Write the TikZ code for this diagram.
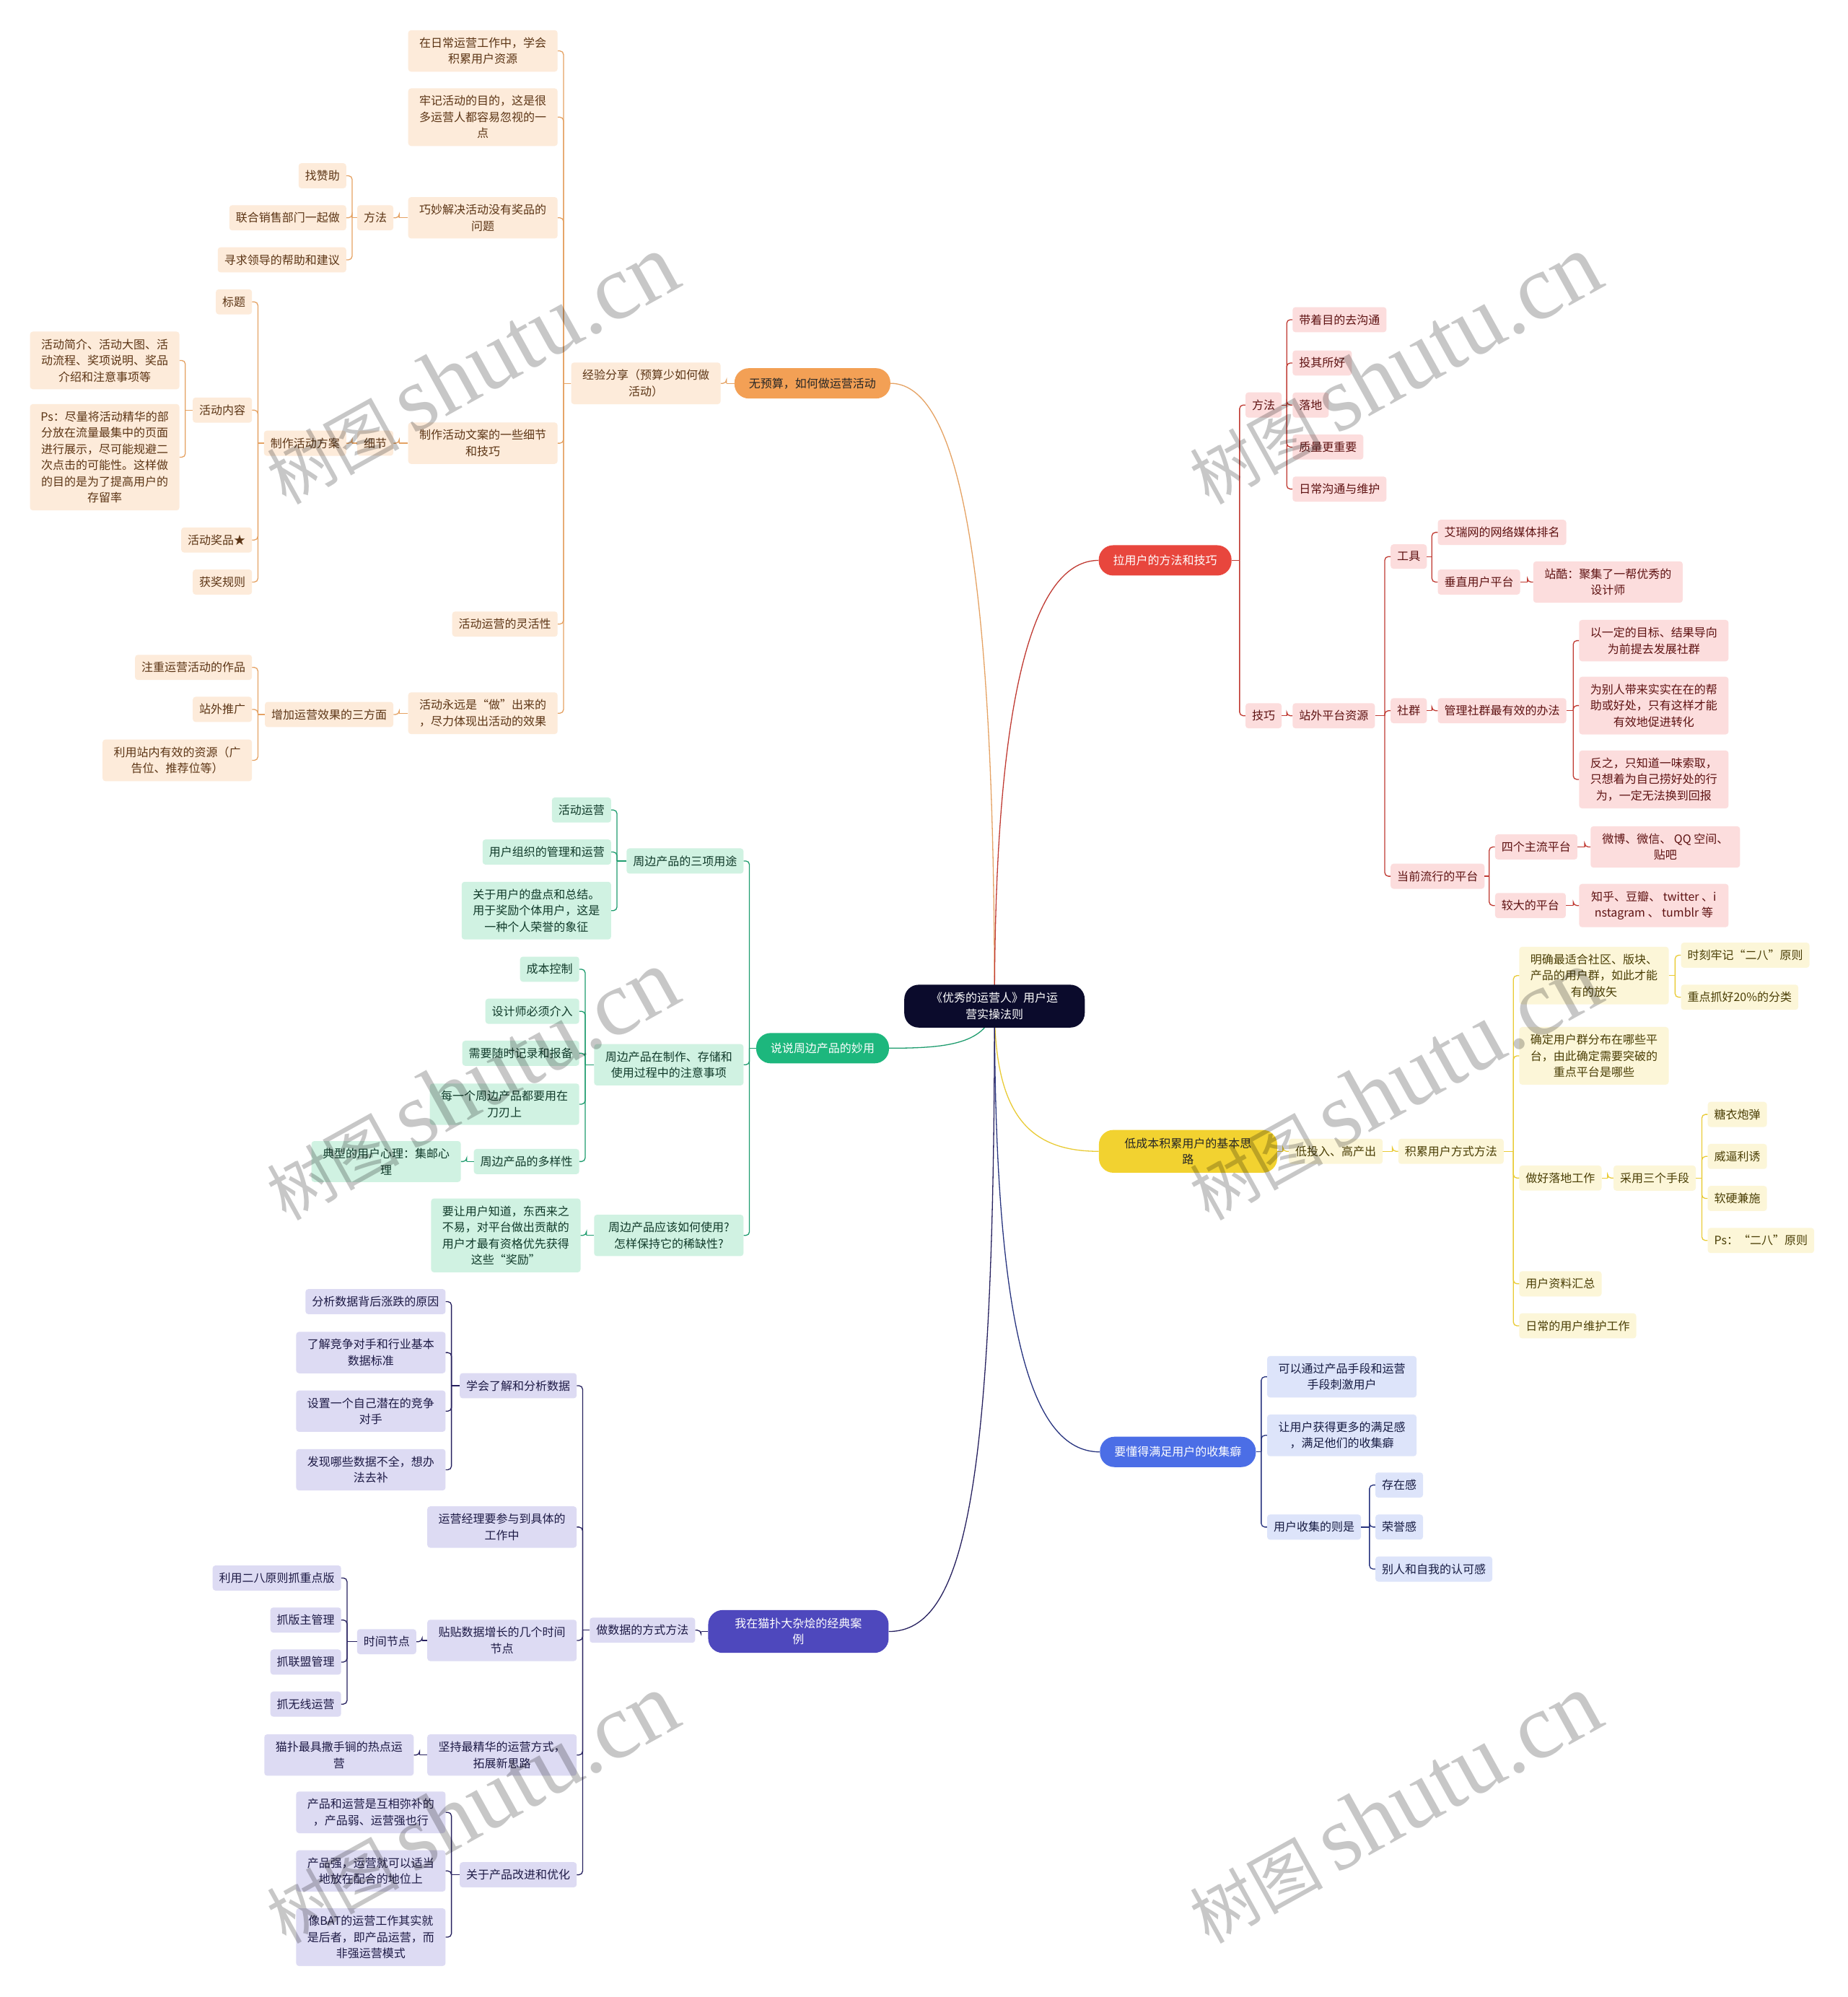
\documentclass[tikz,border=0pt]{standalone}
\usepackage{fontspec}
\setmainfont{Noto Sans CJK SC}
\newfontfamily\wmserif{Liberation Serif}
\usetikzlibrary{backgrounds,calc}
\definecolor{rootfill}{HTML}{0B0B2C}
\definecolor{orgmain}{HTML}{F3A055}
\definecolor{orgfill}{HTML}{FDEBDA}
\definecolor{orgtext}{HTML}{5C3515}
\definecolor{orgline}{HTML}{E5A263}
\definecolor{redmain}{HTML}{E8463D}
\definecolor{redfill}{HTML}{FCDDDD}
\definecolor{redtext}{HTML}{5E1212}
\definecolor{redline}{HTML}{C03A32}
\definecolor{yelmain}{HTML}{F2D230}
\definecolor{yelfill}{HTML}{FCF6D8}
\definecolor{yeltext}{HTML}{4A3E05}
\definecolor{yelline}{HTML}{E9CB35}
\definecolor{grnmain}{HTML}{1DB77D}
\definecolor{grnfill}{HTML}{D0F2E2}
\definecolor{grntext}{HTML}{103A2A}
\definecolor{grnline}{HTML}{1E9C6E}
\definecolor{blumain}{HTML}{4B6EE6}
\definecolor{blufill}{HTML}{DDE4FA}
\definecolor{blutext}{HTML}{161B42}
\definecolor{bluline}{HTML}{27337F}
\definecolor{purmain}{HTML}{4E48BD}
\definecolor{purfill}{HTML}{DDDBF3}
\definecolor{purtext}{HTML}{1D1A45}
\definecolor{purline}{HTML}{26205F}
\newcommand{\nodefont}{\fontsize{16pt}{22.5pt}\selectfont}
% children on the left: trunk sits just right of the child
\newcommand{\linkL}[2]{%
  \path ([xshift=8pt]#2.east) coordinate (jn);
  \draw[link] (#1.west) -- (jn |- #1.west);
  \draw[link,rounded corners=5pt] (jn |- #1.west) |- (#2.east);}
% children on the right
\newcommand{\linkR}[2]{%
  \path ([xshift=-8pt]#2.west) coordinate (jn);
  \draw[link] (#1.east) -- (jn |- #1.east);
  \draw[link,rounded corners=5pt] (jn |- #1.east) |- (#2.west);}

\begin{document}
\begin{tikzpicture}[x=1.7643pt,y=-1.7643pt,
  leaf/.style={rounded corners=4pt,inner xsep=9pt,inner ysep=10pt,align=center,font=\nodefont},
  wide/.style={minimum width=207pt},
  topic/.style={rounded corners=20pt,inner xsep=20pt,inner ysep=11pt,minimum height=42pt,align=center,font=\nodefont},
  link/.style={line width=1.3pt},
  wmark/.style={rotate=29,text=black,text opacity=0.22,inner sep=0pt}]
\useasboundingbox (0,0) rectangle (1451,1568);

\node[topic,fill=rootfill,text=white,minimum width=250pt] (root) at (781,790) {《优秀的运营人》用户运\\营实操法则};

% ---------- orange: activities without budget ----------
\begin{scope}[leaf/.append style={fill=orgfill,text=orgtext},link/.append style={draw=orgline}]
  \node[topic,fill=orgmain,text=black!85] (o0) at (638,301) {无预算，如何做运营活动};
  \node[leaf,wide,anchor=east] (o1) at (566,301) {经验分享（预算少如何做\\活动）};
  \node[leaf,wide,anchor=east] (o1a) at (438,40) {在日常运营工作中，学会\\积累用户资源};
  \node[leaf,wide,anchor=east] (o1b) at (438,92) {牢记活动的目的，这是很\\多运营人都容易忽视的一\\点};
  \node[leaf,wide,anchor=east] (o1c) at (438,171) {巧妙解决活动没有奖品的\\问题};
  \node[leaf,anchor=east] (o1c1) at (309,171) {方法};
  \node[leaf,anchor=east] (o1c1a) at (272,138) {找赞助};
  \node[leaf,anchor=east] (o1c1b) at (272,171) {联合销售部门一起做};
  \node[leaf,anchor=east] (o1c1c) at (272,204) {寻求领导的帮助和建议};
  \node[leaf,wide,anchor=east] (o1d) at (438,348) {制作活动文案的一些细节\\和技巧};
  \node[leaf,anchor=east] (o1d1) at (309,348) {细节};
  \node[leaf,anchor=east] (o1d2) at (272,348) {制作活动方案};
  \node[leaf,anchor=east] (o1d2a) at (198,237) {标题};
  \node[leaf,anchor=east] (o1d2b) at (198,322) {活动内容};
  \node[leaf,wide,anchor=east] (o1d2b1) at (141,283) {活动简介、活动大图、活\\动流程、奖项说明、奖品\\介绍和注意事项等};
  \node[leaf,wide,anchor=east] (o1d2b2) at (141,359) {Ps：尽量将活动精华的部\\分放在流量最集中的页面\\进行展示，尽可能规避二\\次点击的可能性。这样做\\的目的是为了提高用户的\\存留率};
  \node[leaf,anchor=east] (o1d2c) at (198,424) {活动奖品★};
  \node[leaf,anchor=east] (o1d2d) at (198,457) {获奖规则};
  \node[leaf,anchor=east] (o1e) at (438,490) {活动运营的灵活性};
  \node[leaf,wide,anchor=east] (o1f) at (438,560) {活动永远是“做”出来的\\，尽力体现出活动的效果};
  \node[leaf,anchor=east] (o1f1) at (309,561) {增加运营效果的三方面};
  \node[leaf,anchor=east] (o1f1a) at (198,524) {注重运营活动的作品};
  \node[leaf,anchor=east] (o1f1b) at (198,557) {站外推广};
  \node[leaf,wide,anchor=east] (o1f1c) at (198,597) {利用站内有效的资源（广\\告位、推荐位等）};
  \linkL{o0}{o1}
  \foreach \c in {o1a,o1b,o1c,o1d,o1e,o1f} {\linkL{o1}{\c}}
  \linkL{o1c}{o1c1}
  \foreach \c in {o1c1a,o1c1b,o1c1c} {\linkL{o1c1}{\c}}
  \linkL{o1d}{o1d1}
  \linkL{o1d1}{o1d2}
  \foreach \c in {o1d2a,o1d2b,o1d2c,o1d2d} {\linkL{o1d2}{\c}}
  \foreach \c in {o1d2b1,o1d2b2} {\linkL{o1d2b}{\c}}
  \linkL{o1f}{o1f1}
  \foreach \c in {o1f1a,o1f1b,o1f1c} {\linkL{o1f1}{\c}}
\end{scope}

% ---------- green: merchandise ----------
\begin{scope}[leaf/.append style={fill=grnfill,text=grntext},link/.append style={draw=grnline}]
  \node[topic,fill=grnmain,text=white] (g0) at (646,823) {说说周边产品的妙用};
  \node[leaf,anchor=east] (g1) at (584,676) {周边产品的三项用途};
  \node[leaf,anchor=east] (g1a) at (480,636) {活动运营};
  \node[leaf,anchor=east] (g1b) at (480,669) {用户组织的管理和运营};
  \node[leaf,wide,anchor=east] (g1c) at (480,715) {关于用户的盘点和总结。\\用于奖励个体用户，这是\\一种个人荣誉的象征};
  \node[leaf,wide,anchor=east] (g2) at (584,836) {周边产品在制作、存储和\\使用过程中的注意事项};
  \node[leaf,anchor=east] (g2a) at (455,761) {成本控制};
  \node[leaf,anchor=east] (g2b) at (455,794) {设计师必须介入};
  \node[leaf,anchor=east] (g2c) at (455,827) {需要随时记录和报备};
  \node[leaf,wide,anchor=east] (g2d) at (455,867) {每一个周边产品都要用在\\刀刃上};
  \node[leaf,anchor=east] (g2e) at (455,912) {周边产品的多样性};
  \node[leaf,wide,anchor=east] (g2e1) at (362,912) {典型的用户心理：集邮心\\理};
  \node[leaf,wide,anchor=east] (g3) at (584,970) {周边产品应该如何使用?\\怎样保持它的稀缺性?};
  \node[leaf,wide,anchor=east] (g3a) at (456,970) {要让用户知道，东西来之\\不易，对平台做出贡献的\\用户才最有资格优先获得\\这些“奖励”};
  \foreach \c in {g1,g2,g3} {\linkL{g0}{\c}}
  \foreach \c in {g1a,g1b,g1c} {\linkL{g1}{\c}}
  \foreach \c in {g2a,g2b,g2c,g2d,g2e} {\linkL{g2}{\c}}
  \linkL{g2e}{g2e1}
  \linkL{g3}{g3a}
\end{scope}

% ---------- purple: the Mop case ----------
\begin{scope}[leaf/.append style={fill=purfill,text=purtext},link/.append style={draw=purline}]
  \node[topic,fill=purmain,text=white,minimum width=250pt] (p0) at (627,1281) {我在猫扑大杂烩的经典案\\例};
  \node[leaf,anchor=east] (p1) at (546,1280) {做数据的方式方法};
  \node[leaf,anchor=east] (p1a) at (453,1088) {学会了解和分析数据};
  \node[leaf,anchor=east] (p1a1) at (350,1022) {分析数据背后涨跌的原因};
  \node[leaf,wide,anchor=east] (p1a2) at (350,1062) {了解竞争对手和行业基本\\数据标准};
  \node[leaf,wide,anchor=east] (p1a3) at (350,1108) {设置一个自己潜在的竞争\\对手};
  \node[leaf,wide,anchor=east] (p1a4) at (350,1154) {发现哪些数据不全，想办\\法去补};
  \node[leaf,wide,anchor=east] (p1b) at (453,1199) {运营经理要参与到具体的\\工作中};
  \node[leaf,wide,anchor=east] (p1c) at (453,1288) {贴贴数据增长的几个时间\\节点};
  \node[leaf,anchor=east] (p1c1) at (327,1289) {时间节点};
  \node[leaf,anchor=east] (p1c1a) at (268,1239) {利用二八原则抓重点版};
  \node[leaf,anchor=east] (p1c1b) at (268,1272) {抓版主管理};
  \node[leaf,anchor=east] (p1c1c) at (268,1305) {抓联盟管理};
  \node[leaf,anchor=east] (p1c1d) at (268,1338) {抓无线运营};
  \node[leaf,wide,anchor=east] (p1d) at (453,1378) {坚持最精华的运营方式，\\拓展新思路};
  \node[leaf,wide,anchor=east] (p1d1) at (325,1378) {猫扑最具撒手锏的热点运\\营};
  \node[leaf,anchor=east] (p1e) at (453,1472) {关于产品改进和优化};
  \node[leaf,wide,anchor=east] (p1e1) at (350,1423) {产品和运营是互相弥补的\\，产品弱、运营强也行};
  \node[leaf,wide,anchor=east] (p1e2) at (350,1469) {产品强，运营就可以适当\\地放在配合的地位上};
  \node[leaf,wide,anchor=east] (p1e3) at (350,1521) {像BAT的运营工作其实就\\是后者，即产品运营，而\\非强运营模式};
  \linkL{p0}{p1}
  \foreach \c in {p1a,p1b,p1c,p1d,p1e} {\linkL{p1}{\c}}
  \foreach \c in {p1a1,p1a2,p1a3,p1a4} {\linkL{p1a}{\c}}
  \linkL{p1c}{p1c1}
  \foreach \c in {p1c1a,p1c1b,p1c1c,p1c1d} {\linkL{p1c1}{\c}}
  \linkL{p1d}{p1d1}
  \foreach \c in {p1e1,p1e2,p1e3} {\linkL{p1e}{\c}}
\end{scope}

% ---------- red: pulling users ----------
\begin{scope}[leaf/.append style={fill=redfill,text=redtext},link/.append style={draw=redline}]
  \node[topic,fill=redmain,text=white] (r0) at (915,440) {拉用户的方法和技巧};
  \node[leaf,anchor=west] (r1) at (978,318) {方法};
  \node[leaf,anchor=west] (r1a) at (1015,251) {带着目的去沟通};
  \node[leaf,anchor=west] (r1b) at (1015,285) {投其所好};
  \node[leaf,anchor=west] (r1c) at (1015,318) {落地};
  \node[leaf,anchor=west] (r1d) at (1015,351) {质量更重要};
  \node[leaf,anchor=west] (r1e) at (1015,384) {日常沟通与维护};
  \node[leaf,anchor=west] (r2) at (978,562) {技巧};
  \node[leaf,anchor=west] (r21) at (1015,562) {站外平台资源};
  \node[leaf,anchor=west] (r21a) at (1092,437) {工具};
  \node[leaf,anchor=west] (r21a1) at (1129,418) {艾瑞网的网络媒体排名};
  \node[leaf,anchor=west] (r21a2) at (1129,457) {垂直用户平台};
  \node[leaf,wide,anchor=west] (r21a2x) at (1204,457) {站酷：聚集了一帮优秀的\\设计师};
  \node[leaf,anchor=west] (r21b) at (1092,558) {社群};
  \node[leaf,anchor=west] (r21b1) at (1129,558) {管理社群最有效的办法};
  \node[leaf,wide,anchor=west] (r21b1a) at (1240,503) {以一定的目标、结果导向\\为前提去发展社群};
  \node[leaf,wide,anchor=west] (r21b1b) at (1240,554) {为别人带来实实在在的帮\\助或好处，只有这样才能\\有效地促进转化};
  \node[leaf,wide,anchor=west] (r21b1c) at (1240,612) {反之，只知道一味索取，\\只想着为自己捞好处的行\\为，一定无法换到回报};
  \node[leaf,anchor=west] (r21c) at (1092,688) {当前流行的平台};
  \node[leaf,anchor=west] (r21c1) at (1174,665) {四个主流平台};
  \node[leaf,wide,anchor=west] (r21c1x) at (1249,665) {微博、微信、 QQ 空间、\\贴吧};
  \node[leaf,anchor=west] (r21c2) at (1174,711) {较大的平台};
  \node[leaf,wide,anchor=west] (r21c2x) at (1240,711) {知乎、豆瓣、 twitter 、i\\nstagram 、 tumblr 等};
  \foreach \c in {r1,r2} {\linkR{r0}{\c}}
  \foreach \c in {r1a,r1b,r1c,r1d,r1e} {\linkR{r1}{\c}}
  \linkR{r2}{r21}
  \foreach \c in {r21a,r21b,r21c} {\linkR{r21}{\c}}
  \foreach \c in {r21a1,r21a2} {\linkR{r21a}{\c}}
  \linkR{r21a2}{r21a2x}
  \linkR{r21b}{r21b1}
  \foreach \c in {r21b1a,r21b1b,r21b1c} {\linkR{r21b1}{\c}}
  \foreach \c in {r21c1,r21c2} {\linkR{r21c}{\c}}
  \linkR{r21c1}{r21c1x}
  \linkR{r21c2}{r21c2x}
\end{scope}

% ---------- yellow: low-cost accumulation ----------
\begin{scope}[leaf/.append style={fill=yelfill,text=yeltext},link/.append style={draw=yelline}]
  \node[topic,fill=yelmain,text=black!85,minimum width=247pt] (y0) at (933,904) {低成本积累用户的基本思\\路};
  \node[leaf,anchor=west] (y1) at (1012,904) {低投入、高产出};
  \node[leaf,anchor=west] (y2) at (1098,904) {积累用户方式方法};
  \node[leaf,wide,anchor=west] (y2a) at (1193,766) {明确最适合社区、版块、\\产品的用户群，如此才能\\有的放矢};
  \node[leaf,anchor=west] (y2a1) at (1320,750) {时刻牢记“二八”原则};
  \node[leaf,anchor=west] (y2a2) at (1320,783) {重点抓好20\%的分类};
  \node[leaf,wide,anchor=west] (y2b) at (1193,829) {确定用户群分布在哪些平\\台，由此确定需要突破的\\重点平台是哪些};
  \node[leaf,anchor=west] (y2c) at (1193,925) {做好落地工作};
  \node[leaf,anchor=west] (y2c1) at (1267,925) {采用三个手段};
  \node[leaf,anchor=west] (y2c1a) at (1341,875) {糖衣炮弹};
  \node[leaf,anchor=west] (y2c1b) at (1341,908) {威逼利诱};
  \node[leaf,anchor=west] (y2c1c) at (1341,941) {软硬兼施};
  \node[leaf,anchor=west] (y2c1d) at (1341,974) {Ps：“二八”原则};
  \node[leaf,anchor=west] (y2d) at (1193,1008) {用户资料汇总};
  \node[leaf,anchor=west] (y2e) at (1193,1041) {日常的用户维护工作};
  \linkR{y0}{y1}
  \linkR{y1}{y2}
  \foreach \c in {y2a,y2b,y2c,y2d,y2e} {\linkR{y2}{\c}}
  \foreach \c in {y2a1,y2a2} {\linkR{y2a}{\c}}
  \linkR{y2c}{y2c1}
  \foreach \c in {y2c1a,y2c1b,y2c1c,y2c1d} {\linkR{y2c1}{\c}}
\end{scope}

% ---------- blue: collecting habit ----------
\begin{scope}[leaf/.append style={fill=blufill,text=blutext},link/.append style={draw=bluline}]
  \node[topic,fill=blumain,text=white] (b0) at (925,1140) {要懂得满足用户的收集癖};
  \node[leaf,wide,anchor=west] (b1) at (995,1081) {可以通过产品手段和运营\\手段刺激用户};
  \node[leaf,wide,anchor=west] (b2) at (995,1127) {让用户获得更多的满足感\\，满足他们的收集癖};
  \node[leaf,anchor=west] (b3) at (995,1199) {用户收集的则是};
  \node[leaf,anchor=west] (b3a) at (1080,1166) {存在感};
  \node[leaf,anchor=west] (b3b) at (1080,1199) {荣誉感};
  \node[leaf,anchor=west] (b3c) at (1080,1232) {别人和自我的认可感};
  \foreach \c in {b1,b2,b3} {\linkR{b0}{\c}}
  \foreach \c in {b3a,b3b,b3c} {\linkR{b3}{\c}}
\end{scope}

% ---------- main branches out of the root ----------
\begin{scope}[on background layer]
  \fill[white] (0,0) rectangle (1451,1568);
  \draw[link,draw=orgline] (root.center) .. controls +(0,-310) and +(60,0) .. (o0.east);
  \draw[link,draw=redline] (root.center) .. controls +(0,-250) and +(-50,0) .. (r0.west);
  \draw[link,draw=grnline] (root.center) .. controls +(-5,30) and +(45,0) .. (g0.east);
  \draw[link,draw=yelline] (root.center) .. controls +(0,85) and +(-55,0) .. (y0.west);
  \draw[link,draw=bluline] (root.center) .. controls +(0,250) and +(-55,0) .. (b0.west);
  \draw[link,draw=purline] (root.center) .. controls +(0,380) and +(60,0) .. (p0.east);
\end{scope}

% watermark
\foreach \wx/\wy [count=\i] in {370/290,1095/290,370/852,1095/852,370/1420,1095/1420}
  \node[wmark] (wm\i) at (\wx,\wy) {{\fontsize{92pt}{92pt}\selectfont 树图}\hspace{18pt}{\wmserif\fontsize{128pt}{128pt}\selectfont shutu.cn}};
\end{tikzpicture}
\end{document}
